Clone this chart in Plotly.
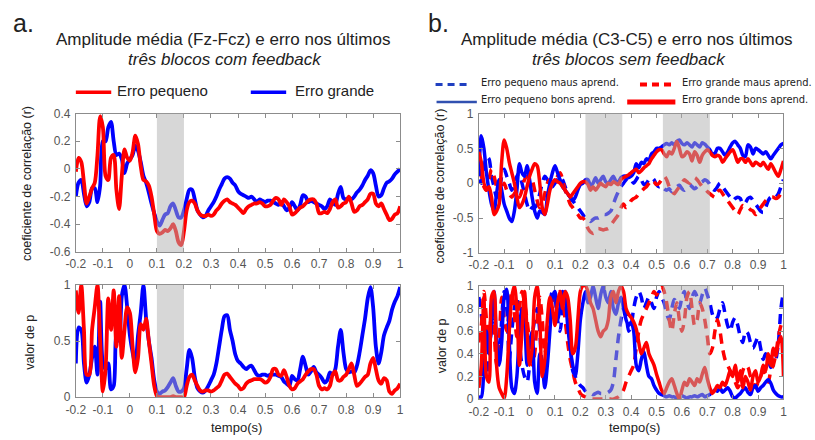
import plotly.graph_objects as go

# ---------------- data ----------------
t = [round(-0.2 + 0.01 * i, 2) for i in range(121)]

# panel a, correlation (r)
a_r_grande = [-0.2, -0.1, -0.08, -0.18, -0.27, -0.24, -0.14, -0.14, -0.24, -0.12,
              0.2, 0.2, 0.3, 0.34, 0.2, 0.1, 0.11, 0.07, -0.03, 0.04,
              0.07, 0.1, 0.17, 0.13, 0.05, -0.05, -0.1, -0.17, -0.25, -0.32,
              -0.38, -0.41, -0.37, -0.33, -0.32, -0.27, -0.25, -0.3, -0.35, -0.35,
              -0.3, -0.22, -0.15, -0.15, -0.22, -0.3, -0.33, -0.35, -0.34, -0.3,
              -0.27, -0.24, -0.2, -0.15, -0.11, -0.07, -0.06, -0.07, -0.1, -0.12,
              -0.16, -0.18, -0.19, -0.2, -0.21, -0.2, -0.22, -0.24, -0.22, -0.23,
              -0.24, -0.23, -0.23, -0.24, -0.25, -0.26, -0.24, -0.27, -0.3, -0.28,
              -0.24, -0.27, -0.3, -0.26, -0.19, -0.2, -0.24, -0.23, -0.24, -0.25,
              -0.26, -0.27, -0.29, -0.27, -0.22, -0.24, -0.26, -0.18, -0.13, -0.21,
              -0.22, -0.21, -0.22, -0.2, -0.17, -0.15, -0.12, -0.08, -0.05, -0.01,
              -0.03, -0.12, -0.2, -0.19, -0.14, -0.1, -0.09, -0.07, -0.04, -0.02,
              0.0]
a_r_pequeno = [-0.02, 0.08, 0.05, -0.1, -0.25, -0.2, -0.14, -0.1, 0.1, 0.38,
               0.3, -0.05, -0.08, 0.08, 0.1, -0.15, -0.29, -0.05, 0.14, 0.08,
               0.06, 0.12, 0.24, 0.18, 0.02, -0.08, -0.09, -0.12, -0.2, -0.33,
               -0.45, -0.47, -0.46, -0.44, -0.45, -0.43, -0.4, -0.45, -0.53, -0.55,
               -0.45, -0.3, -0.24, -0.23, -0.25, -0.3, -0.33, -0.34, -0.34, -0.33,
               -0.34, -0.33, -0.3, -0.28, -0.25, -0.23, -0.22, -0.24, -0.25, -0.26,
               -0.28, -0.3, -0.32, -0.29, -0.27, -0.26, -0.25, -0.25, -0.24, -0.25,
               -0.27, -0.27, -0.26, -0.23, -0.21, -0.22, -0.26, -0.22, -0.24, -0.27,
               -0.33, -0.32, -0.3, -0.28, -0.27, -0.25, -0.23, -0.22, -0.22, -0.25,
               -0.32, -0.32, -0.31, -0.32, -0.29, -0.24, -0.22, -0.28, -0.27, -0.25,
               -0.24, -0.2, -0.25, -0.31, -0.3, -0.27, -0.26, -0.24, -0.22, -0.18,
               -0.18, -0.25, -0.27, -0.25, -0.29, -0.33, -0.37, -0.36, -0.33, -0.32,
               -0.27]

# panel a, p values
a_p_grande = [0.3, 0.62, 0.6, 0.3, 0.13, 0.2, 0.35, 0.45, 0.2, 0.85,
              0.3, 0.25, 0.3, 0.07, 0.1, 0.55, 0.5, 0.9, 1.0, 0.8,
              0.55, 0.4, 0.3, 0.55, 0.75, 1.0, 0.7, 0.5, 0.35, 0.15,
              0.05, 0.03, 0.05, 0.06, 0.09, 0.13, 0.17, 0.1, 0.05, 0.05,
              0.08, 0.25, 0.42, 0.35, 0.18, 0.08, 0.05, 0.04, 0.06, 0.1,
              0.15, 0.2, 0.3, 0.45, 0.6, 0.72, 0.73, 0.6, 0.5, 0.38,
              0.32, 0.3, 0.27, 0.25, 0.27, 0.28, 0.24, 0.2, 0.19, 0.2,
              0.2, 0.19, 0.2, 0.2, 0.2, 0.19, 0.18, 0.14, 0.12, 0.1,
              0.19, 0.16, 0.15, 0.25, 0.36, 0.28, 0.2, 0.23, 0.27, 0.22,
              0.2, 0.17, 0.13, 0.15, 0.22, 0.2, 0.25, 0.45, 0.6, 0.4,
              0.25, 0.22, 0.23, 0.22, 0.28, 0.4, 0.55, 0.7, 0.88, 0.98,
              0.8, 0.45, 0.3, 0.4, 0.55, 0.62, 0.68, 0.78, 0.85, 0.9,
              0.98]
a_p_pequeno = [0.95, 0.75, 1.0, 0.6, 0.2, 0.2, 0.6, 0.8, 1.0, 0.5,
               0.05, 0.25, 0.88, 0.6, 0.95, 0.45, 0.9, 0.35, 0.6, 0.8,
               0.75, 0.45, 0.22, 0.35, 0.65, 0.6, 0.7, 0.5, 0.3, 0.1,
               0.01, 0.0, 0.0, 0.0, 0.0, 0.0, 0.01, 0.0, 0.0, 0.0,
               0.0, 0.1, 0.18, 0.2, 0.15, 0.1, 0.06, 0.05, 0.06, 0.06,
               0.05, 0.06, 0.08, 0.1, 0.15, 0.2, 0.21, 0.18, 0.15, 0.12,
               0.1, 0.07, 0.08, 0.12, 0.14, 0.15, 0.16, 0.16, 0.16, 0.15,
               0.13, 0.14, 0.18, 0.25, 0.25, 0.2, 0.19, 0.24, 0.18, 0.1,
               0.07, 0.08, 0.12, 0.14, 0.16, 0.2, 0.23, 0.25, 0.25, 0.2,
               0.1, 0.07, 0.08, 0.07, 0.1, 0.2, 0.23, 0.15, 0.15, 0.18,
               0.2, 0.25, 0.3, 0.2, 0.1, 0.12, 0.15, 0.18, 0.2, 0.3,
               0.35, 0.25, 0.15, 0.12, 0.17, 0.15, 0.05, 0.03, 0.06, 0.08,
               0.12]

# panel b, correlation (r)
b_r_peq_bons = [0.1, 0.68, 0.5, 0.15, -0.1, -0.3, -0.4, -0.15, 0.05, -0.1,
                -0.3, -0.4, -0.5, -0.55, -0.4, -0.1, 0.28, 0.15, 0.1, 0.25,
                0.05, -0.2, -0.4, -0.5, -0.4, -0.42, -0.45, -0.2, 0.0, 0.15,
                0.25, 0.15, 0.05, -0.05, -0.1, -0.15, -0.2, -0.25, -0.2, -0.1,
                -0.02, 0.0, 0.05, 0.05, -0.03, 0.0, 0.08, 0.0, 0.05, 0.1,
                0.02, 0.0, 0.05, 0.1, 0.03, 0.02, 0.08, 0.1, 0.1, 0.08,
                0.1, 0.15, 0.28, 0.22, 0.3, 0.28, 0.35, 0.33, 0.42, 0.45,
                0.5, 0.5, 0.52, 0.55, 0.57, 0.55, 0.58, 0.55, 0.6, 0.62,
                0.57, 0.55, 0.58, 0.55, 0.52, 0.58, 0.55, 0.52, 0.58, 0.56,
                0.52, 0.48, 0.42, 0.43, 0.5, 0.5, 0.45, 0.4, 0.45, 0.52,
                0.58, 0.6, 0.55, 0.5, 0.4, 0.38, 0.55, 0.52, 0.42, 0.5,
                0.48, 0.45, 0.42, 0.45, 0.4, 0.35, 0.4, 0.45, 0.5, 0.55,
                0.57]
b_r_gra_bons = [0.45, 0.3, 0.0, -0.1, -0.05, -0.2, -0.45, -0.4, -0.3, 0.3,
                0.62, 0.5, 0.3, 0.15, 0.0, -0.2, -0.35, -0.3, -0.2, -0.05,
                0.1, 0.2, 0.28, 0.25, 0.0, -0.35, -0.45, -0.3, -0.1, 0.0,
                0.05, 0.02, 0.0, -0.05, -0.1, -0.15, -0.2, -0.15, -0.1, -0.05,
                0.0, 0.02, 0.02, -0.02, -0.1, -0.05, -0.1, -0.05, 0.0, -0.03,
                -0.05, 0.0, -0.02, 0.02, 0.0, -0.02, 0.05, 0.08, 0.1, 0.12,
                0.15, 0.18, 0.2, 0.15, 0.18, 0.22, 0.25, 0.28, 0.35, 0.4,
                0.45, 0.48, 0.48, 0.42, 0.38, 0.45, 0.42, 0.5, 0.6, 0.5,
                0.38, 0.4, 0.45, 0.42, 0.32, 0.45, 0.4, 0.3, 0.4, 0.45,
                0.48, 0.45, 0.4, 0.38, 0.4, 0.38, 0.3, 0.35, 0.4, 0.45,
                0.48, 0.4, 0.3, 0.35, 0.35, 0.3, 0.35, 0.3, 0.25, 0.3,
                0.28, 0.25, 0.3, 0.25, 0.2, 0.28, 0.22, 0.15, 0.1, 0.2,
                0.32]
b_r_peq_maus = [0.05, 0.0, 0.2, 0.38, 0.35, 0.1, -0.05, -0.2, -0.15, 0.1,
                0.2, 0.1, 0.0, -0.1, 0.0, 0.1, 0.15, 0.0, -0.15, -0.3,
                -0.4, -0.35, -0.35, -0.3, -0.15, 0.0, 0.1, 0.05, 0.0, -0.05,
                0.0, 0.05, 0.1, 0.05, -0.05, -0.15, -0.2, -0.25, -0.3, -0.35,
                -0.4, -0.45, -0.5, -0.52, -0.55, -0.52, -0.5, -0.5, -0.48, -0.45,
                -0.45, -0.43, -0.4, -0.3, -0.2, -0.12, -0.05, 0.0, 0.05, 0.08,
                0.05, 0.0, 0.05, 0.1, 0.05, -0.02, 0.0, 0.05, 0.08, 0.05,
                -0.02, -0.05, -0.03, -0.08, -0.1, -0.08, -0.12, -0.08, -0.05, -0.03,
                -0.08, -0.1, -0.05, -0.02, -0.05, -0.08, -0.05, 0.0, 0.02, 0.05,
                0.03, -0.02, -0.08, -0.1, -0.05, 0.0, -0.05, -0.1, -0.15, -0.2,
                -0.25, -0.22, -0.2, -0.22, -0.3, -0.28, -0.22, -0.2, -0.25, -0.3,
                -0.35, -0.4, -0.42, -0.35, -0.25, -0.2, -0.22, -0.2, -0.15, -0.05,
                0.05]
b_r_gra_maus = [0.2, 0.1, -0.05, -0.1, 0.05, 0.2, 0.1, -0.05, -0.2, -0.15,
                0.0, -0.1, -0.15, -0.2, -0.15, -0.1, -0.2, -0.1, 0.05, 0.1,
                0.1, 0.05, -0.1, -0.25, -0.35, -0.3, -0.15, 0.0, 0.05, 0.0,
                0.05, 0.1, 0.15, 0.05, -0.1, -0.2, -0.3, -0.35, -0.4, -0.45,
                -0.5, -0.5, -0.55, -0.65, -0.7, -0.72, -0.7, -0.65, -0.66, -0.67,
                -0.66, -0.65, -0.6, -0.55, -0.5, -0.45, -0.35, -0.3, -0.35, -0.32,
                -0.25, -0.22, -0.2, -0.15, -0.12, -0.08, -0.05, 0.0, 0.05, 0.02,
                -0.02, 0.0, 0.05, 0.1, 0.05, -0.05, -0.12, -0.15, -0.1, -0.05,
                0.0, 0.05, 0.02, 0.0, 0.05, 0.08, 0.05, 0.0, -0.05, -0.08,
                -0.12, -0.15, -0.18, -0.2, -0.12, -0.1, -0.15, -0.2, -0.25, -0.3,
                -0.35, -0.4, -0.45, -0.38, -0.32, -0.35, -0.35, -0.38, -0.4, -0.45,
                -0.42, -0.35, -0.3, -0.25, -0.22, -0.2, -0.2, -0.22, -0.2, -0.15,
                -0.12]

# panel b, p values
b_p_peq_bons = [0.02, 0.02, 0.3, 0.6, 0.4, 0.7, 0.95, 0.5, 0.3, 0.5,
                0.9, 0.97, 0.5, 0.1, 0.05, 0.2, 0.6, 0.8, 0.7, 0.3,
                0.5, 0.6, 0.15, 0.05, 0.4, 0.3, 0.1, 0.3, 0.6, 0.9,
                0.95, 0.7, 0.8, 0.95, 0.9, 0.65, 0.45, 0.3, 0.2, 0.4,
                0.7, 0.85, 0.95, 0.85, 0.9, 1.0, 0.9, 0.8, 0.92, 1.0,
                0.9, 0.85, 0.95, 0.8, 0.75, 0.85, 0.9, 0.8, 0.7, 0.65,
                0.68, 0.6, 0.3, 0.25, 0.35, 0.42, 0.3, 0.2, 0.18, 0.12,
                0.08, 0.05, 0.04, 0.03, 0.02, 0.03, 0.02, 0.02, 0.01, 0.02,
                0.03, 0.02, 0.01, 0.02, 0.02, 0.03, 0.02, 0.03, 0.04, 0.02,
                0.03, 0.04, 0.06, 0.08, 0.07, 0.1, 0.06, 0.08, 0.1, 0.07,
                0.02, 0.01, 0.03, 0.05, 0.08, 0.1, 0.06, 0.04, 0.1, 0.12,
                0.07, 0.1, 0.12, 0.15, 0.17, 0.14, 0.08, 0.05, 0.03, 0.02,
                0.02]
b_p_gra_bons = [0.1, 0.3, 0.9, 0.2, 0.15, 0.9, 0.95, 0.3, 0.1, 0.05,
                0.01, 0.2, 0.6, 0.9, 1.0, 0.8, 0.3, 0.6, 0.95, 0.6,
                0.3, 0.45, 0.9, 1.0, 0.7, 0.2, 0.35, 0.7, 0.9, 0.8,
                0.65, 0.85, 0.95, 0.8, 0.95, 0.9, 0.7, 0.4, 0.45, 0.7,
                0.95, 1.0, 1.0, 0.95, 0.85, 0.8, 0.7, 0.6, 0.55, 0.6,
                0.62, 0.7, 0.9, 0.95, 0.85, 0.95, 1.0, 0.95, 0.8, 0.75,
                0.72, 0.68, 0.62, 0.5, 0.4, 0.45, 0.5, 0.4, 0.35, 0.3,
                0.22, 0.15, 0.08, 0.05, 0.1, 0.15, 0.18, 0.12, 0.05, 0.0,
                0.08, 0.15, 0.12, 0.18, 0.15, 0.12, 0.18, 0.15, 0.22, 0.28,
                0.18, 0.1, 0.05, 0.08, 0.12, 0.1, 0.15, 0.12, 0.18, 0.25,
                0.2, 0.3, 0.15, 0.25, 0.1, 0.2, 0.15, 0.08, 0.2, 0.25,
                0.15, 0.2, 0.3, 0.25, 0.4, 0.3, 0.45, 0.38, 0.5, 0.55,
                0.2]
b_p_peq_maus = [0.9, 0.75, 0.4, 0.2, 0.45, 0.6, 0.7, 0.55, 0.3, 0.7,
                0.95, 0.8, 0.35, 0.6, 0.8, 0.9, 0.5, 0.3, 0.2, 0.15,
                0.3, 0.55, 0.7, 0.8, 0.6, 0.3, 0.25, 0.6, 0.85, 0.95,
                0.9, 0.7, 0.6, 0.8, 0.95, 0.8, 0.5, 0.25, 0.2, 0.15,
                0.12, 0.1, 0.07, 0.05, 0.05, 0.04, 0.05, 0.06, 0.05, 0.05,
                0.05, 0.06, 0.08, 0.15, 0.35, 0.55, 0.7, 0.8, 0.75, 0.6,
                0.65, 0.8, 0.9, 0.95, 0.9, 0.8, 0.85, 0.9, 0.85, 0.8,
                0.9, 0.95, 0.9, 0.85, 0.75, 0.7, 0.8, 0.88, 0.85, 0.8,
                0.9, 0.95, 0.85, 0.8, 0.9, 0.95, 0.9, 0.85, 0.92, 0.98,
                0.92, 0.85, 0.75, 0.7, 0.72, 0.8, 0.85, 0.75, 0.65, 0.6,
                0.68, 0.72, 0.65, 0.55, 0.5, 0.6, 0.58, 0.5, 0.45, 0.5,
                0.55, 0.45, 0.35, 0.4, 0.35, 0.28, 0.3, 0.35, 0.5, 0.8,
                0.95]
b_p_gra_maus = [0.5, 0.65, 0.95, 0.7, 0.4, 0.85, 0.6, 0.3, 0.5, 0.9,
                0.7, 0.6, 0.8, 0.95, 0.75, 0.55, 0.8, 0.95, 0.85, 0.7,
                0.5, 0.3, 0.4, 0.7, 0.9, 0.7, 0.4, 0.6, 0.85, 0.9,
                0.8, 0.85, 0.95, 0.9, 0.7, 0.5, 0.35, 0.25, 0.15, 0.1,
                0.05, 0.03, 0.02, 0.01, 0.0, 0.0, 0.0, 0.0, 0.0, 0.0,
                0.0, 0.0, 0.0, 0.0, 0.01, 0.02, 0.04, 0.08, 0.15, 0.2,
                0.25, 0.3, 0.45, 0.6, 0.7, 0.75, 0.8, 0.85, 0.9, 0.95,
                0.92, 0.98, 1.0, 0.95, 0.85, 0.7, 0.6, 0.75, 0.85, 0.7,
                0.6, 0.7, 0.9, 0.95, 0.8, 0.65, 0.7, 0.85, 0.8, 0.7,
                0.55, 0.4, 0.45, 0.6, 0.7, 0.6, 0.45, 0.35, 0.3, 0.25,
                0.2, 0.15, 0.1, 0.15, 0.25, 0.3, 0.28, 0.2, 0.15, 0.1,
                0.15, 0.2, 0.25, 0.22, 0.15, 0.25, 0.3, 0.4, 0.55, 0.65,
                0.7]

shade_a = [(0.1, 0.2)]
shade_b = [(0.22, 0.365), (0.525, 0.71)]

x_ticks = [-0.2, -0.1, 0, 0.1, 0.2, 0.3, 0.4, 0.5, 0.6, 0.7, 0.8, 0.9, 1]
x_ticktext = ["-0.2", "-0.1", "0", "0.1", "0.2", "0.3", "0.4", "0.5", "0.6", "0.7", "0.8", "0.9", "1"]

# ---------------- layout helpers ----------------
W, H = 815, 440
def px(x): return x / W
def py(y): return 1 - y / H

BLUE = "#0000ff"
RED = "#ff0000"
FONT = "Liberation Sans, Arial, sans-serif"

fig = go.Figure()

def add(xa, ya, y, color, width, dash="solid"):
    fig.add_trace(go.Scatter(x=t, y=y, xaxis=xa, yaxis=ya, mode="lines",
                             line=dict(color=color, width=width, dash=dash,
                                       shape="spline", smoothing=0.8),
                             showlegend=False, hoverinfo="skip"))

add("x", "y", a_r_grande, BLUE, 3.8)
add("x", "y", a_r_pequeno, RED, 3.8)
add("x2", "y2", a_p_grande, BLUE, 3.8)
add("x2", "y2", a_p_pequeno, RED, 3.8)

DASH = "10px,7px"
add("x3", "y3", b_r_peq_maus, BLUE, 3.5, DASH)
add("x3", "y3", b_r_gra_maus, RED, 3.5, DASH)
add("x3", "y3", b_r_peq_bons, BLUE, 3.5)
add("x3", "y3", b_r_gra_bons, RED, 3.5)
add("x4", "y4", b_p_peq_maus, BLUE, 3.5, DASH)
add("x4", "y4", b_p_gra_maus, RED, 3.5, DASH)
add("x4", "y4", b_p_peq_bons, BLUE, 3.5)
add("x4", "y4", b_p_gra_bons, RED, 3.5)

def xaxis(domain, anchor):
    return dict(domain=domain, anchor=anchor, range=[-0.2, 1], tickvals=x_ticks,
                ticktext=x_ticktext, showline=True, linecolor="#8c8c8c", linewidth=1,
                mirror="ticks", ticks="inside", ticklen=4, tickcolor="#8c8c8c",
                tickfont=dict(family=FONT, size=12, color="#555555"),
                ticklabelstandoff=1,
                showgrid=False, zeroline=False, fixedrange=True)

def yaxis(domain, anchor, rng, vals, texts):
    return dict(domain=domain, anchor=anchor, range=rng, tickvals=vals, ticktext=texts,
                showline=True, linecolor="#8c8c8c", linewidth=1, mirror="ticks",
                ticks="inside", ticklen=4, tickcolor="#8c8c8c",
                tickfont=dict(family=FONT, size=12, color="#555555"),
                ticklabelstandoff=2,
                showgrid=False, zeroline=False, fixedrange=True)

xl = [px(67), px(397)]
xr = [px(477), px(787)]
fig.update_layout(
    width=W, height=H, margin=dict(l=0, r=0, t=0, b=0),
    paper_bgcolor="white", plot_bgcolor="white",
    xaxis=xaxis(xl, "y"),
    yaxis=yaxis([py(253), py(110)], "x", [-0.6, 0.4],
                [-0.6, -0.4, -0.2, 0, 0.2, 0.4], ["-0.6", "-0.4", "-0.2", "0", "0.2", "0.4"]),
    xaxis2=xaxis(xl, "y2"),
    yaxis2=yaxis([py(403), py(287)], "x2", [0, 1], [0, 0.5, 1], ["0", "0.5", "1"]),
    xaxis3=xaxis(xr, "y3"),
    yaxis3=yaxis([py(254), py(110)], "x3", [-1, 1], [-1, -0.5, 0, 0.5, 1],
                 ["-1", "-0.5", "0", "0.5", "1"]),
    xaxis4=xaxis(xr, "y4"),
    yaxis4=yaxis([py(405), py(288)], "x4", [0, 1], [0, 0.2, 0.4, 0.6, 0.8, 1],
                 ["0", "0.2", "0.4", "0.6", "0.8", "1"]),
)

shapes = []
for (x0, x1) in shade_a:
    for xa, ya in (("x", "y"), ("x2", "y2")):
        shapes.append(dict(type="rect", xref=xa, yref=ya + " domain", x0=x0, x1=x1, y0=0, y1=1,
                           fillcolor="#b0b0b0", opacity=0.5, line=dict(width=0), layer="above"))
for (x0, x1) in shade_b:
    for xa, ya in (("x3", "y3"), ("x4", "y4")):
        shapes.append(dict(type="rect", xref=xa, yref=ya + " domain", x0=x0, x1=x1, y0=0, y1=1,
                           fillcolor="#b0b0b0", opacity=0.5, line=dict(width=0), layer="above"))

def legline(x0, x1, y, color, width, dash="solid"):
    shapes.append(dict(type="line", xref="paper", yref="paper", x0=px(x0), x1=px(x1),
                       y0=py(y), y1=py(y), line=dict(color=color, width=width, dash=dash)))

legline(67, 103, 88, RED, 3.5)
legline(245, 281, 88, BLUE, 3.5)
legline(433, 468, 80, "#2040c0", 3, "7px,5px")
legline(641, 676, 80, RED, 4, "7px,5px")
legline(434, 475, 98, "#3050b0", 2.5)
legline(628, 677, 98, RED, 5)
fig.update_layout(shapes=shapes)

ann = []
def text(x, y, s, size, xanchor="center", color="#222222", angle=0, family=FONT):
    ann.append(dict(x=px(x), y=py(y), xref="paper", yref="paper", text=s, showarrow=False,
                    xanchor=xanchor, yanchor="middle", textangle=angle, borderpad=0,
                    font=dict(family=family, size=size, color=color)))

text(2, 17, "a.", 25, "left")
text(424, 17, "b.", 25, "left")
text(217, 34, "Amplitude média (Fz-Fcz) e erro nos últimos", 17)
text(219, 54, "<i>três blocos com feedback</i>", 17)
text(628, 34, "Amplitude média (C3-C5) e erro nos últimos", 17)
text(630, 54, "<i>três blocos sem feedback</i>", 17)
text(108, 86, "Erro pequeno", 15, "left")
text(289, 86, "Erro grande", 15, "left")
NARROW = "Liberation Sans Narrow, Arial Narrow, DejaVu Sans Condensed, sans-serif"
text(478, 78, "Erro pequeno maus aprend.", 11, "left", family=NARROW)
text(683, 78, "Erro grande maus aprend.", 11, "left", family=NARROW)
text(478, 96, "Erro pequeno bons aprend.", 11, "left", family=NARROW)
text(683, 96, "Erro grande bons aprend.", 11, "left", family=NARROW)
text(18, 182, "coeficiente de correlação (r)", 12.5, angle=-90)
text(438, 185, "coeficiente de correlação (r)", 12.5, angle=-90)
text(20, 346, "valor de p", 12.5, angle=-90)
text(439, 350, "valor de p", 12.5, angle=-90)
text(230, 434, "tempo(s)", 13)
text(635, 434, "tempo(s)", 13)
fig.update_layout(annotations=ann)

fig.write_html("out.html")
